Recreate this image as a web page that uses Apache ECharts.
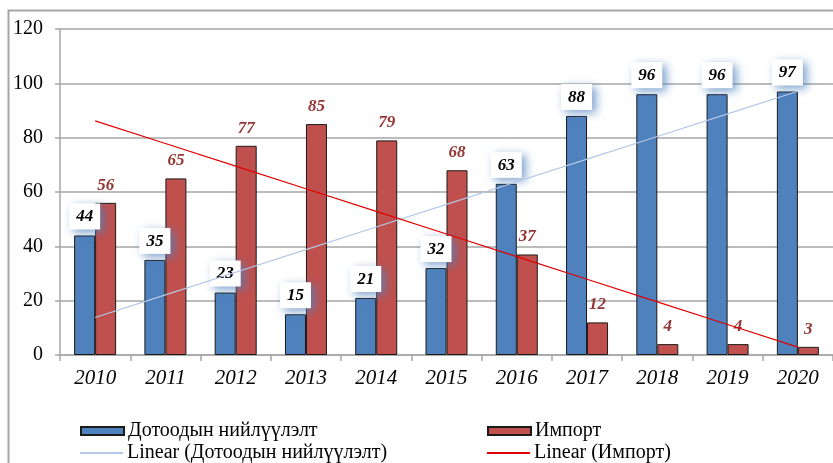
<!DOCTYPE html>
<html><head><meta charset="utf-8">
<script src="https://cdn.jsdelivr.net/npm/echarts@6/dist/echarts.min.js"></script>
<style>html,body{margin:0;padding:0;background:#fff}#c{width:833px;height:463px}</style>
</head><body><div id="c"></div>
<script>
const years = ['2010','2011','2012','2013','2014','2015','2016','2017','2018','2019','2020'];
const domestic = [44,35,23,15,21,32,63,88,96,96,97];
const imports = [56,65,77,85,79,68,37,12,4,4,3];
const yTicks = {min:0, max:120, interval:20};
const names = ['Дотоодын нийлүүлэлт','Импорт','Linear (Дотоодын нийлүүлэлт)','Linear (Импорт)'];

function linFit(arr){
  const n=arr.length; let sx=0,sy=0,sxy=0,sxx=0;
  arr.forEach((y,x)=>{sx+=x;sy+=y;sxy+=x*y;sxx+=x*x;});
  const b=(n*sxy-sx*sy)/(n*sxx-sx*sx); const a=(sy-b*sx)/n;
  return arr.map((_,x)=>+(a+b*x).toFixed(3));
}

const font = 'Liberation Serif';
const legText = {fontFamily:font,fontSize:20,color:'#000',padding:[0,0,0,-1]};
const chart = echarts.init(document.getElementById('c'));
chart.setOption({
  animation:false,
  textStyle:{fontFamily:font},
  graphic:[{type:'rect',shape:{x:8.5,y:10.5,width:900,height:520},style:{fill:null,stroke:'#A6A6A6',lineWidth:2},z:-1}],
  grid:{left:60,right:-9,top:29,bottom:108},
  xAxis:{type:'category',data:years,
    axisLine:{lineStyle:{color:'#A6A6A6',width:1.5}},
    axisTick:{show:true,length:6,lineStyle:{color:'#A6A6A6',width:1.5}},
    axisLabel:{fontFamily:font,fontSize:21,fontStyle:'italic',color:'#000',margin:13}},
  yAxis:{type:'value',min:yTicks.min,max:yTicks.max,interval:yTicks.interval,
    axisLine:{show:true,lineStyle:{color:'#A6A6A6',width:1.5}},
    axisTick:{show:true,length:5,lineStyle:{color:'#A6A6A6',width:1.5}},
    splitLine:{lineStyle:{color:'#A6A6A6',width:1.5}},
    axisLabel:{fontFamily:font,fontSize:20,color:'#000',margin:17}},
  legend:[
    {left:75,top:416,itemWidth:43,itemHeight:8,data:[{name:names[0],icon:'rect'}],textStyle:legText},
    {left:482,top:416,itemWidth:43,itemHeight:8,data:[{name:names[1],icon:'rect'}],textStyle:legText},
    {left:75,top:438,itemWidth:43,itemHeight:2,data:[{name:names[2],icon:'rect'}],textStyle:legText},
    {left:482,top:438,itemWidth:43,itemHeight:2,data:[{name:names[3],icon:'rect'}],textStyle:legText}
  ],
  series:[
    {name:names[0],type:'bar',data:domestic,barWidth:21,barGap:'0%',
     itemStyle:{color:'#4F81BD',borderColor:'#1a1a1a',borderWidth:1},
     label:{show:true,position:'top',distance:6,fontFamily:font,fontSize:17,fontWeight:'bold',fontStyle:'italic',color:'#000',
       backgroundColor:'#fff',padding:[5,7,4,7],shadowColor:'rgba(79,129,189,0.75)',shadowBlur:10,shadowOffsetX:4,shadowOffsetY:3}},
    {name:names[1],type:'bar',data:imports,barWidth:21,barGap:'0%',
     itemStyle:{color:'#C0504D',borderColor:'#1a1a1a',borderWidth:1},
     label:{show:true,position:'top',distance:9,fontFamily:font,fontSize:17,fontWeight:'bold',fontStyle:'italic',color:'#943634'}},
    {name:names[2],type:'line',data:linFit(domestic),showSymbol:false,symbol:'none',color:'#B4C7E7',
     lineStyle:{color:'#B4C7E7',width:1.2},z:5},
    {name:names[3],type:'line',data:linFit(imports),showSymbol:false,symbol:'none',color:'#E00000',
     lineStyle:{color:'#E00000',width:1.2},z:5}
  ]
});
</script></body></html>
